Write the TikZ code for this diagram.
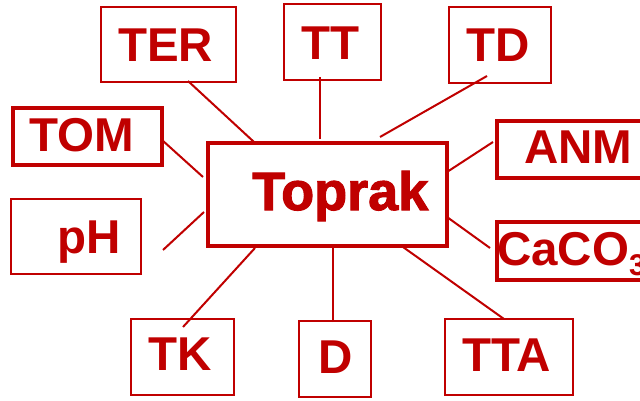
\documentclass[tikz,border=0pt]{standalone}
\usepackage{fontspec}
\setmainfont{Liberation Sans}
\newfontfamily\heavyfont{Liberation Sans Bold}[FakeBold=2]
\definecolor{soilred}{RGB}{192,0,0}
\begin{document}
\begin{tikzpicture}[x=1pt,y=-1pt,
  frame/.style={draw=soilred,line width=2pt,inner sep=0pt,anchor=north west},
  heavyframe/.style={frame,line width=4pt},
  word/.style={text=soilred,inner sep=0pt,anchor=base west,font=\bfseries\fontsize{47.5}{47.5}\selectfont},
  link/.style={draw=soilred,line width=2pt}]
\useasboundingbox (0,0) rectangle (640,401);
\fill[white] (0,0) rectangle (640,401);
\clip (0,0) rectangle (640,401);

% central box
\node[heavyframe,minimum width=239pt,minimum height=103pt] (toprak) at (206,141) {};
\node[word,font=\heavyfont\fontsize{54}{54}\selectfont] (toprakT) at (252,210) {Toprak};

% surrounding boxes
\node[frame,minimum width=135pt,minimum height=75pt] (ter) at (100,6) {};
\node[frame,minimum width=97pt,minimum height=76pt] (tt) at (283,3) {};
\node[frame,minimum width=102pt,minimum height=76pt] (td) at (448,6) {};
\node[heavyframe,minimum width=149pt,minimum height=57pt] (tom) at (11,106) {};
\node[frame,minimum width=130pt,minimum height=75pt] (ph) at (10,198) {};
\node[heavyframe,minimum width=170pt,minimum height=57pt] (anm) at (495,119) {};
\node[heavyframe,minimum width=170pt,minimum height=58pt] (caco) at (495,220) {};
\node[frame,minimum width=103pt,minimum height=76pt] (tk) at (130,318) {};
\node[frame,minimum width=72pt,minimum height=76pt] (d) at (298,320) {};
\node[frame,minimum width=128pt,minimum height=76pt] (tta) at (444,318) {};

% labels
\node[word] (terT) at (118,62) {TER};
\node[word] (ttT) at (301,60) {TT};
\node[word] (tdT) at (466,62) {TD};
\node[word] (tomT) at (29,152) {TOM};
\node[word] (phT) at (57,253) {pH};
\node[word] (anmT) at (524,164) {ANM};
\node[word] (cacoT) at (497,265) {CaCO\raisebox{-10pt}{\fontsize{30}{30}\selectfont 3}};
\node[word] (tkT) at (148,370) {TK};
\node[word] (dT) at (318,373) {D};
\node[word] (ttaT) at (462,371) {TTA};

% connector end points
\coordinate (ter-a) at (188,81);   \coordinate (ter-b) at (254,142);
\coordinate (tt-a) at (320,77);    \coordinate (tt-b) at (320,139);
\coordinate (td-a) at (487,76);    \coordinate (td-b) at (380,137);
\coordinate (tom-a) at (162,140);  \coordinate (tom-b) at (203,177);
\coordinate (ph-a) at (163,250);   \coordinate (ph-b) at (204,212);
\coordinate (anm-a) at (493,142);  \coordinate (anm-b) at (447,172);
\coordinate (caco-a) at (490,248); \coordinate (caco-b) at (447,217);
\coordinate (tk-a) at (183,327);   \coordinate (tk-b) at (255,248);
\coordinate (d-a) at (333,322);    \coordinate (d-b) at (333,247);
\coordinate (tta-a) at (504,319);  \coordinate (tta-b) at (403,247);

% connectors
\foreach \n in {ter,tt,td,tom,ph,anm,caco,tk,d,tta}
  \draw[link] (\n-a) -- (\n-b);
\end{tikzpicture}
\end{document}
